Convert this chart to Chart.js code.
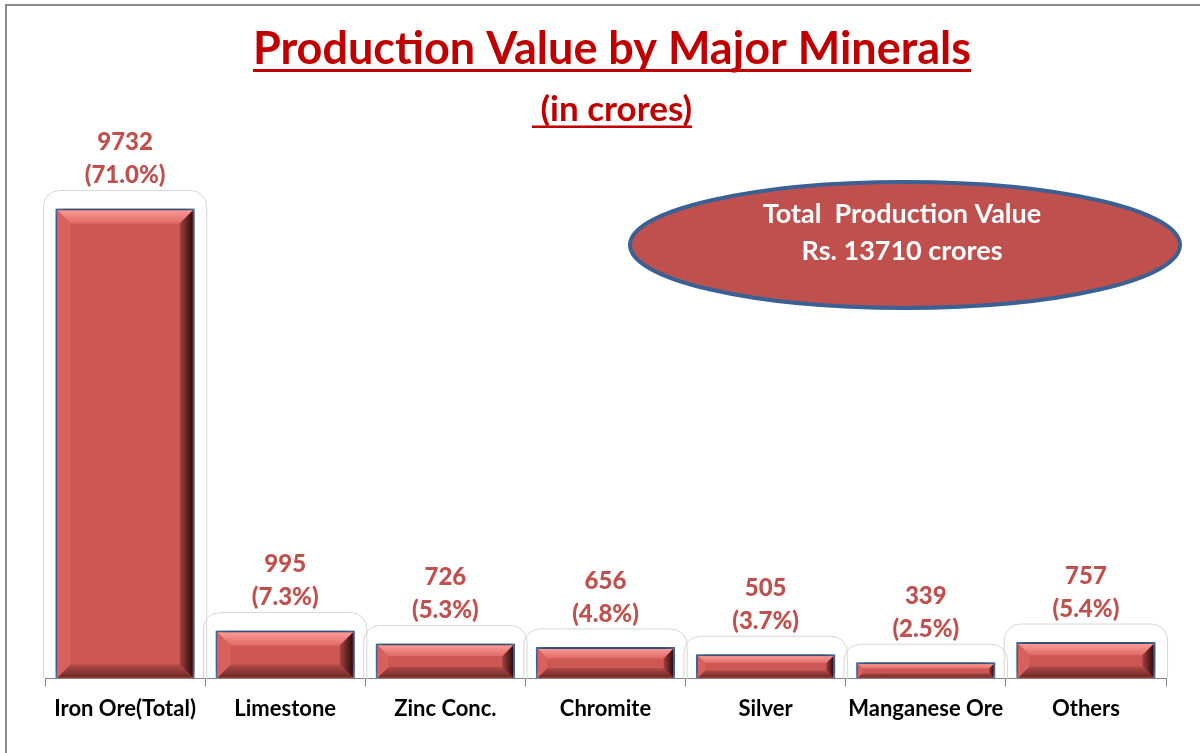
<!DOCTYPE html>
<html>
<head>
<meta charset="utf-8">
<title>Production Value by Major Minerals</title>
<script src="https://cdn.jsdelivr.net/npm/chart.js@4"></script>
<style>
  html, body { margin: 0; padding: 0; background: #fff; }
  #wrap { position: relative; width: 1200px; height: 753px; }
</style>
</head>
<body>
<div id="wrap"><canvas id="myChart"></canvas></div>
<script>
// chart data
const minerals = ['Iron Ore(Total)', 'Limestone', 'Zinc Conc.', 'Chromite', 'Silver', 'Manganese Ore', 'Others'];
const prodValues = [9732, 995, 726, 656, 505, 339, 757];
const shares = ['71.0%', '7.3%', '5.3%', '4.8%', '3.7%', '2.5%', '5.4%'];
const totalLines = ['Total  Production Value', 'Rs. 13710 crores'];
const titleText = 'Production Value by Major Minerals';
const subTitleText = ' (in crores)';

const FONT = 'Lato, "Open Sans", sans-serif';

// frame, title, subtitle and the ellipse note
const decorPlugin = {
    id: 'decor',
    beforeDraw(chart) {
        const ctx = chart.ctx;
        ctx.save();
        ctx.strokeStyle = '#8c8c8c';
        ctx.lineWidth = 2;
        ctx.strokeRect(6, 5, 1400, 1000);
        ctx.restore();
    },
    afterDraw(chart) {
        const ctx = chart.ctx;
        ctx.save();
        ctx.textAlign = 'center';
        ctx.textBaseline = 'alphabetic';

        // title
        ctx.fillStyle = '#c00000';
        ctx.font = 'bold 45px ' + FONT;
        ctx.fillText(titleText, 612, 64);
        let w = ctx.measureText(titleText).width;
        ctx.fillRect(612 - w / 2, 69, w, 3);

        // subtitle
        ctx.font = 'bold 35px ' + FONT;
        ctx.fillText(subTitleText, 612, 121);
        w = ctx.measureText(subTitleText).width;
        ctx.fillRect(612 - w / 2, 125.5, w, 2.5);

        // ellipse
        ctx.beginPath();
        ctx.ellipse(905, 245, 275, 63, 0, 0, Math.PI * 2);
        ctx.fillStyle = '#c0504d';
        ctx.fill();
        ctx.lineWidth = 4;
        ctx.strokeStyle = '#3a6094';
        ctx.stroke();
        ctx.fillStyle = '#ffffff';
        ctx.font = 'bold 27px ' + FONT;
        ctx.textBaseline = 'middle';
        ctx.fillText(totalLines[0], 902, 214);
        ctx.fillText(totalLines[1], 902, 251);
        ctx.restore();
    }
};

// bevel look, glow outline and value labels on the bars
const barLookPlugin = {
    id: 'barLook',
    beforeDatasetsDraw(chart) {
        const ctx = chart.ctx;
        const meta = chart.getDatasetMeta(0);
        ctx.save();
        ctx.strokeStyle = '#d6d6d6';
        ctx.lineWidth = 1;
        meta.data.forEach(function(bar) {
            const l = bar.x - bar.width / 2 - 12, r = bar.x + bar.width / 2 + 12;
            const t = bar.y - 18, b = bar.base;
            ctx.beginPath();
            ctx.moveTo(l, b);
            ctx.arcTo(l, t, r, t, 16);
            ctx.arcTo(r, t, r, b, 16);
            ctx.lineTo(r, b);
            ctx.stroke();
        });
        ctx.restore();
        // soft shadow for the bars
        ctx.save();
        ctx.shadowColor = 'rgba(0,0,0,0.6)';
        ctx.shadowBlur = 12;
        ctx.shadowOffsetY = -3;
    },
    afterDatasetsDraw(chart) {
        const ctx = chart.ctx;
        ctx.restore();
        const meta = chart.getDatasetMeta(0);
        ctx.save();
        meta.data.forEach(function(bar, i) {
            const l = bar.x - bar.width / 2 + 2, r = bar.x + bar.width / 2 - 2;
            const t = bar.y + 2, bt = bar.base - 1;
            const s = Math.min(13, (bt - t) / 3);

            let g = ctx.createLinearGradient(0, t, 0, t + s);
            g.addColorStop(0, '#f99a97');
            g.addColorStop(1, '#e06a66');
            ctx.fillStyle = g;
            ctx.beginPath();
            ctx.moveTo(l, t); ctx.lineTo(r, t); ctx.lineTo(r - s, t + s); ctx.lineTo(l + s, t + s);
            ctx.closePath(); ctx.fill();

            g = ctx.createLinearGradient(r - s, 0, r, 0);
            g.addColorStop(0, '#a6403d');
            g.addColorStop(1, '#2a0d0c');
            ctx.fillStyle = g;
            ctx.beginPath();
            ctx.moveTo(r, t); ctx.lineTo(r, bt); ctx.lineTo(r - s, bt - s); ctx.lineTo(r - s, t + s);
            ctx.closePath(); ctx.fill();

            g = ctx.createLinearGradient(0, bt - s, 0, bt);
            g.addColorStop(0, '#b04a47');
            g.addColorStop(1, '#6e2826');
            ctx.fillStyle = g;
            ctx.beginPath();
            ctx.moveTo(l, bt); ctx.lineTo(r, bt); ctx.lineTo(r - s, bt - s); ctx.lineTo(l + s, bt - s);
            ctx.closePath(); ctx.fill();

            ctx.fillStyle = '#d8605d';
            ctx.beginPath();
            ctx.moveTo(l, t); ctx.lineTo(l + s, t + s); ctx.lineTo(l + s, bt - s); ctx.lineTo(l, bt);
            ctx.closePath(); ctx.fill();

            // value + share label
            ctx.fillStyle = '#c0504d';
            ctx.font = '900 24px ' + FONT;
            ctx.textAlign = 'center';
            ctx.textBaseline = 'middle';
            ctx.fillText(String(prodValues[i]), bar.x, bar.y - 66);
            ctx.fillText('(' + shares[i] + ')', bar.x, bar.y - 33);
        });
        ctx.restore();
    }
};

const ctx = document.getElementById('myChart').getContext('2d');
const myChart = new Chart(ctx, {
    type: 'bar',
    data: {
        labels: minerals,
        datasets: [{
            data: prodValues,
            backgroundColor: '#cd5754',
            borderColor: '#4f81bd',
            borderWidth: 2,
            barPercentage: 0.87,
            categoryPercentage: 1.0
        }]
    },
    options: {
        responsive: true,
        maintainAspectRatio: false,
        animation: false,
        layout: {
            padding: { left: 45, right: 34, top: 99, bottom: 22 }
        },
        plugins: {
            legend: { display: false },
            title: { display: false },
            tooltip: { enabled: false }
        },
        scales: {
            x: {
                grid: {
                    display: true,
                    drawOnChartArea: false,
                    drawTicks: true,
                    tickLength: 8,
                    color: '#868686'
                },
                border: { display: true, color: '#868686', width: 1 },
                ticks: {
                    color: '#000',
                    font: { family: FONT, weight: 'bold', size: 22 },
                    padding: 9,
                    maxRotation: 0,
                    autoSkip: false
                }
            },
            y: {
                display: false,
                min: 0,
                max: 12000
            }
        }
    },
    plugins: [decorPlugin, barLookPlugin]
});
</script>
</body>
</html>
